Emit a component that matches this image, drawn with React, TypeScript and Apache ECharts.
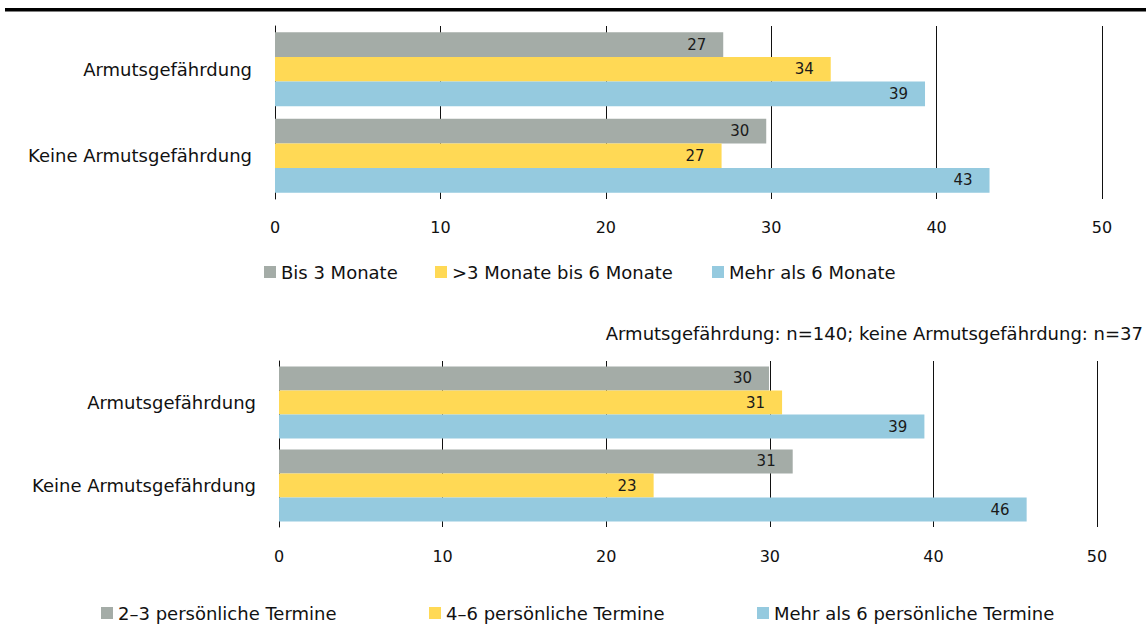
import React, { useEffect, useRef } from "react";
import * as echarts from "echarts";

const categories = ["Armutsgefährdung", "Keine Armutsgefährdung"];
const xTicks = [0, 10, 20, 30, 40, 50];

const topSeriesNames = ["Bis 3 Monate", ">3 Monate bis 6 Monate", "Mehr als 6 Monate"];
const topBis3 = [27.1, 29.7];
const top3bis6 = [33.6, 27.0];
const topMehr6 = [39.3, 43.2];

const bottomSeriesNames = ["2–3 persönliche Termine", "4–6 persönliche Termine", "Mehr als 6 persönliche Termine"];
const bot2bis3 = [29.95, 31.4];
const bot4bis6 = [30.75, 22.9];
const botMehr6 = [39.45, 45.7];

const subtitle = "Armutsgefährdung: n=140; keine Armutsgefährdung: n=37";

const colors = ["#a4aca7", "#ffd955", "#95cadf"];
const FONT = "DejaVu Sans";

export default function App() {
  const ref = useRef<HTMLDivElement>(null);
  useEffect(() => {
    if (!ref.current) return;
    const chart = echarts.init(ref.current, null, { renderer: "svg" });

    const xAxisBase = (gridIndex: number, margin: number) => ({
      type: "value",
      gridIndex,
      min: 0,
      max: 50,
      interval: 10,
      axisLine: { show: false },
      axisTick: { show: false },
      splitLine: { show: true, lineStyle: { color: "#111", width: 1 } },
      axisLabel: {
        margin,
        color: "#111",
        fontFamily: FONT,
        fontSize: 16,
        formatter: (v: number) => (xTicks.includes(v) ? String(v) : ""),
      },
    });
    const yAxisBase = (gridIndex: number) => ({
      type: "category",
      gridIndex,
      data: categories,
      inverse: true,
      axisLine: { show: true, lineStyle: { color: "#111", width: 1 } },
      axisTick: { show: false },
      axisLabel: { margin: 23, color: "#111", fontFamily: FONT, fontSize: 18 },
    });

    const mkSeries = (name: string, data: number[], idx: number, axis: number, gap: string) => ({
      type: "bar",
      name,
      data,
      xAxisIndex: axis,
      yAxisIndex: axis,
      barGap: "0%",
      barCategoryGap: gap,
      itemStyle: { color: colors[idx] },
      label: {
        show: true,
        position: "insideRight",
        distance: 17,
        color: "#1a1a1a",
        fontFamily: FONT,
        fontSize: 15,
        formatter: (p: any) => String(Math.round(p.value)),
      },
    });

    const legendItem = (name: string, left: number, centerY: number) => ({
      data: [name],
      left,
      top: centerY - 9,
      padding: 0,
      icon: "rect",
      itemWidth: 12,
      itemHeight: 12,
      selectedMode: false,
      textStyle: { color: "#111", fontFamily: FONT, fontSize: 18, lineHeight: 18, padding: [0, 0, 0, 0] },
    });

    chart.setOption({
      animation: false,
      textStyle: { fontFamily: FONT },
      grid: [
        { left: 275, right: 1146 - 1102, top: 26, height: 173 },
        { left: 279, right: 1146 - 1097, top: 361, height: 166 },
      ],
      xAxis: [xAxisBase(0, 20), xAxisBase(1, 21)],
      yAxis: [yAxisBase(0), yAxisBase(1)],
      legend: [
        legendItem(topSeriesNames[0], 264, 272),
        legendItem(topSeriesNames[1], 435, 272),
        legendItem(topSeriesNames[2], 712, 272),
        legendItem(bottomSeriesNames[0], 101, 613),
        legendItem(bottomSeriesNames[1], 429, 613),
        legendItem(bottomSeriesNames[2], 757, 613),
      ],
      series: [
        mkSeries(topSeriesNames[0], topBis3, 0, 0, "14.5%"),
        mkSeries(topSeriesNames[1], top3bis6, 1, 0, "14.5%"),
        mkSeries(topSeriesNames[2], topMehr6, 2, 0, "14.5%"),
        mkSeries(bottomSeriesNames[0], bot2bis3, 0, 1, "13%"),
        mkSeries(bottomSeriesNames[1], bot4bis6, 1, 1, "13%"),
        mkSeries(bottomSeriesNames[2], botMehr6, 2, 1, "13%"),
      ],
      graphic: [
        { type: "rect", shape: { x: 5, y: 8, width: 1141, height: 3.5 }, style: { fill: "#000" } },
        {
          type: "text",
          style: {
            text: subtitle,
            x: 1143,
            y: 333,
            align: "right",
            verticalAlign: "middle",
            fill: "#111",
            font: `18px "${FONT}"`,
          },
        },
      ],
    });
    return () => chart.dispose();
  }, []);
  return <div ref={ref} style={{ position: "absolute", left: 0, top: 0, width: 1146, height: 625 }} />;
}
